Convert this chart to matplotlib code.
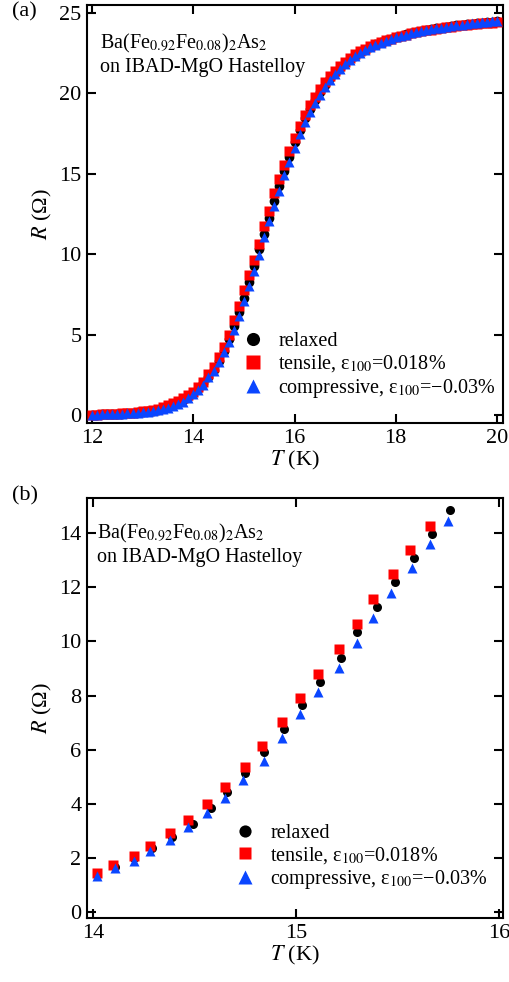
import matplotlib
matplotlib.use("Agg")
import matplotlib.pyplot as plt

plt.rcParams["font.family"] = ["Liberation Serif", "DejaVu Serif"]
plt.rcParams["mathtext.fontset"] = "stix"

# panel (a): full transition, 12-20 K
T_a = [12.0, 12.1, 12.2, 12.3, 12.4, 12.5, 12.6, 12.7, 12.8, 12.9,
       13.0, 13.1, 13.2, 13.3, 13.4, 13.5, 13.6, 13.7, 13.8, 13.9,
       14.0, 14.1, 14.2, 14.3, 14.4, 14.5, 14.6, 14.7, 14.8, 14.9,
       15.0, 15.1, 15.2, 15.3, 15.4, 15.5, 15.6, 15.7, 15.8, 15.9,
       16.0, 16.1, 16.2, 16.3, 16.4, 16.5, 16.6, 16.7, 16.8, 16.9,
       17.0, 17.1, 17.2, 17.3, 17.4, 17.5, 17.6, 17.7, 17.8, 17.9,
       18.0, 18.1, 18.2, 18.3, 18.4, 18.5, 18.6, 18.7, 18.8, 18.9,
       19.0, 19.1, 19.2, 19.3, 19.4, 19.5, 19.6, 19.7, 19.8, 19.9,
       20.0]
R_relaxed_a = [0.02, 0.03, 0.04, 0.05, 0.06, 0.07, 0.09, 0.11, 0.13, 0.16,
               0.19, 0.23, 0.28, 0.34, 0.42, 0.51, 0.62, 0.76, 0.93, 1.13,
               1.35, 1.64, 1.98, 2.39, 2.83, 3.33, 3.95, 4.75, 5.55, 6.40,
               7.30, 8.25, 9.25, 10.30, 11.27, 12.28, 13.30, 14.25, 15.20, 16.05,
               17.00, 17.75, 18.45, 19.05, 19.60, 20.10, 20.55, 20.95, 21.30, 21.60,
               21.88, 22.13, 22.35, 22.55, 22.73, 22.90, 23.05, 23.18, 23.30, 23.40,
               23.50, 23.59, 23.67, 23.75, 23.82, 23.88, 23.94, 24.00, 24.05, 24.10,
               24.15, 24.19, 24.23, 24.27, 24.30, 24.34, 24.37, 24.40, 24.43, 24.46,
               24.48]
R_tensile_a = [0.02, 0.03, 0.04, 0.05, 0.06, 0.08, 0.10, 0.12, 0.15, 0.18,
               0.22, 0.27, 0.33, 0.40, 0.49, 0.60, 0.73, 0.88, 1.06, 1.24,
               1.40, 1.74, 2.08, 2.53, 3.01, 3.58, 4.25, 4.98, 5.90, 6.75,
               7.75, 8.72, 9.65, 10.63, 11.75, 12.68, 13.78, 14.67, 15.55, 16.40,
               17.25, 18.00, 18.68, 19.28, 19.80, 20.28, 20.70, 21.08, 21.42, 21.72,
               21.98, 22.22, 22.43, 22.62, 22.79, 22.94, 23.08, 23.20, 23.31, 23.41,
               23.50, 23.58, 23.66, 23.73, 23.80, 23.86, 23.92, 23.97, 24.02, 24.07,
               24.11, 24.15, 24.19, 24.23, 24.26, 24.29, 24.32, 24.35, 24.38, 24.41,
               24.43]
R_compressive_a = [0.02, 0.03, 0.04, 0.05, 0.06, 0.07, 0.08, 0.10, 0.12, 0.14,
                   0.17, 0.20, 0.25, 0.30, 0.37, 0.45, 0.55, 0.68, 0.84, 1.04,
                   1.29, 1.58, 1.89, 2.34, 2.76, 3.30, 3.90, 4.55, 5.30, 6.15,
                   7.10, 8.05, 8.95, 9.93, 11.05, 12.08, 13.00, 13.95, 14.90, 15.75,
                   16.62, 17.45, 18.20, 18.85, 19.42, 19.93, 20.40, 20.82, 21.18, 21.50,
                   21.80, 22.06, 22.30, 22.51, 22.70, 22.87, 23.02, 23.16, 23.28, 23.39,
                   23.49, 23.58, 23.66, 23.74, 23.81, 23.88, 23.94, 24.00, 24.05, 24.10,
                   24.15, 24.20, 24.24, 24.28, 24.32, 24.35, 24.39, 24.42, 24.45, 24.48,
                   24.51]

# panel (b): zoom on 14-16 K
T_relaxed_b = [14.02, 14.11, 14.20, 14.29, 14.39, 14.49, 14.58, 14.66, 14.75, 14.84,
               14.94, 15.03, 15.12, 15.22, 15.30, 15.40, 15.49, 15.58, 15.67, 15.76]
R_relaxed_b = [1.39, 1.67, 1.98, 2.35, 2.78, 3.27, 3.83, 4.45, 5.12, 5.92,
               6.75, 7.65, 8.51, 9.38, 10.33, 11.27, 12.18, 13.10, 13.97, 14.84]
T_tensile_b = [14.02, 14.10, 14.20, 14.28, 14.38, 14.47, 14.56, 14.65, 14.75, 14.83,
               14.93, 15.02, 15.11, 15.21, 15.30, 15.38, 15.48, 15.56, 15.66]
R_tensile_b = [1.45, 1.74, 2.08, 2.45, 2.91, 3.40, 3.98, 4.63, 5.35, 6.15,
               7.02, 7.92, 8.80, 9.72, 10.63, 11.56, 12.49, 13.38, 14.27]
T_compressive_b = [14.02, 14.11, 14.20, 14.28, 14.38, 14.47, 14.56, 14.65, 14.74, 14.84,
                   14.93, 15.02, 15.11, 15.21, 15.30, 15.38, 15.47, 15.57, 15.66, 15.75]
R_compressive_b = [1.33, 1.61, 1.89, 2.26, 2.66, 3.13, 3.65, 4.20, 4.88, 5.59,
                   6.44, 7.31, 8.14, 9.03, 9.93, 10.86, 11.78, 12.71, 13.59, 14.45]

labels = ["relaxed",
          "tensile, ε$_{100}$=0.018%",
          "compressive, ε$_{100}$=−0.03%"]
sample_text = "Ba(Fe$_{0.92}$Fe$_{0.08}$)$_2$As$_2$\non IBAD-MgO Hastelloy"
red = "#ff0000"
blue = "#0a46ff"
fs_text = 14.5

fig = plt.figure(figsize=(5.10, 9.82), dpi=100)
ax_a = fig.add_axes([0.1706, 0.5692, 0.8157, 0.4257])
ax_b = fig.add_axes([0.1706, 0.0652, 0.8157, 0.4277])


def style(ax):
    for s in ax.spines.values():
        s.set_linewidth(1.5)
    ax.tick_params(direction="in", length=6.5, width=1.5, top=True, right=True,
                   labelsize=16, pad=4)


def draw(ax, tr, rr, tt, rt, tc, rc, ms):
    ax.plot(tr, rr, "o", color="black", ms=ms, mec="none", zorder=2, label=labels[0])
    ax.plot(tt, rt, "s", color=red, ms=ms, mec="none", zorder=3, label=labels[1])
    ax.plot(tc, rc, "^", color=blue, ms=ms + 0.8, mec="none", zorder=4, label=labels[2])


# (a)
draw(ax_a, T_a, R_relaxed_a, T_a, R_tensile_a, T_a, R_compressive_a, 7)
ax_a.set_xlim(11.9, 20.12)
ax_a.set_ylim(-0.5, 25.5)
ax_a.set_xticks([12, 14, 16, 18, 20])
ax_a.set_yticks([0, 5, 10, 15, 20, 25])
style(ax_a)
ax_a.set_xlabel("$T$ (K)", fontsize=16, labelpad=1)
ax_a.set_ylabel("$R$ (Ω)", fontsize=16, labelpad=4)
ax_a.text(0.031, 0.935, sample_text, transform=ax_a.transAxes, fontsize=fs_text,
          va="top", ha="left", linespacing=1.2)

# (b)
draw(ax_b, T_relaxed_b, R_relaxed_b, T_tensile_b, R_tensile_b,
     T_compressive_b, R_compressive_b, 6.5)
ax_b.set_xlim(13.97, 16.02)
ax_b.set_ylim(-0.22, 15.3)
ax_b.set_xticks([14, 15, 16])
ax_b.set_yticks([0, 2, 4, 6, 8, 10, 12, 14])
style(ax_b)
ax_b.set_xlabel("$T$ (K)", fontsize=16, labelpad=1)
ax_b.set_ylabel("$R$ (Ω)", fontsize=16, labelpad=4)
ax_b.text(0.024, 0.943, sample_text, transform=ax_b.transAxes, fontsize=fs_text,
          va="top", ha="left", linespacing=1.2)

for ax, anchor in [(ax_a, (0.375, 0.218)), (ax_b, (0.356, 0.225))]:
    ax.legend(loc="upper left", bbox_to_anchor=anchor, frameon=False,
              fontsize=fs_text, markerscale=1.35, handlelength=1.0,
              handletextpad=0.75, labelspacing=0.12, borderpad=0, borderaxespad=0)

fig.text(12 / 510, 1 - 2 / 982, "(a)", fontsize=16, va="top", ha="left")
fig.text(12 / 510, 1 - 486 / 982, "(b)", fontsize=16, va="top", ha="left")

fig.savefig("out.png", dpi=100)
